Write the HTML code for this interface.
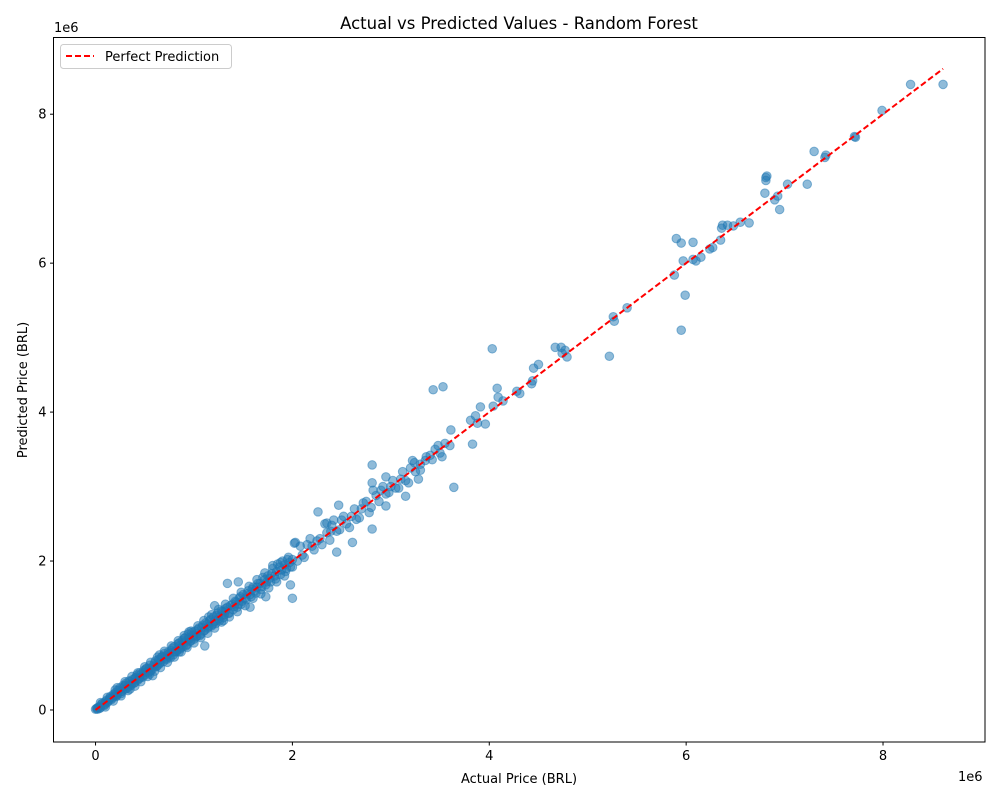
<!DOCTYPE html>
<html><head><meta charset="utf-8"><style>
body{margin:0;background:#fff;font-family:"Liberation Sans","DejaVu Sans",sans-serif}
svg text{font-family:"DejaVu Sans","Liberation Sans",sans-serif;fill:#000}
</style></head><body>
<svg id="chart" width="1000" height="800" xmlns="http://www.w3.org/2000/svg">
<rect width="1000" height="800" fill="#fff"/>
<text x="519" y="29" font-size="16.5" text-anchor="middle">Actual vs Predicted Values - Random Forest</text>
<g id="points"></g>
<g id="line"></g>
<rect x="53.5" y="37.5" width="931.5" height="704.5" fill="none" stroke="#000" stroke-width="1"/>
<g id="xticks"></g>
<g id="yticks"></g>
<text x="519" y="783" font-size="13" text-anchor="middle">Actual Price (BRL)</text>
<text transform="translate(27,390) rotate(-90)" font-size="13" text-anchor="middle">Predicted Price (BRL)</text>
<text x="54" y="32" font-size="13">1e6</text>
<text x="958" y="781" font-size="13">1e6</text>
<g>
<rect x="60.5" y="44.5" width="171" height="24" rx="3" fill="#fff" fill-opacity="0.8" stroke="#ccc"/>
<line x1="66" y1="56" x2="94" y2="56" stroke="red" stroke-width="2" stroke-dasharray="6,3"/>
<text x="105" y="61" font-size="13">Perfect Prediction</text>
</g>
</svg>
<script>
const actual=[0,0.01,0.02,0.03,0.05,0.06,0.08,0.1,0.12,0.14,0.15,0.17,0.19,0.2,0.22,0.24,0.25,0.27,0.28,0.3,0.31,0.33,0.35,0.36,0.38,0.4,0.42,0.44,0.45,0.47,0.49,0.5,0.52,0.54,0.55,0.57,0.58,0.6,0.62,0.64,0.65,0.67,0.69,0.7,0.72,0.74,0.75,0.77,0.79,0.8,0.82,0.84,0.86,0.88,0.89,0.91,0.93,0.94,0.96,0.98,1.0,1.01,1.03,1.05,1.07,1.09,1.1,1.12,1.14,1.16,1.18,1.2,1.22,1.24,1.26,1.28,1.3,1.32,1.35,1.37,1.4,1.42,1.44,1.46,1.48,1.5,1.53,1.55,1.58,1.6,1.63,1.65,1.68,1.7,1.73,1.75,1.78,1.8,1.83,1.85,1.88,1.9,1.93,1.95,1.98,2.02,2.05,2.1,2.15,2.2,2.25,2.3,2.35,2.4,2.45,2.5,2.55,2.6,2.65,2.7,2.75,2.8,2.85,2.9,2.95,3.0,3.05,3.1,3.15,3.2,3.25,3.3,3.35,3.4,3.45,3.5,3.55,3.6,3.22,3.28,
8.61,8.28,7.99,7.71,7.72,7.30,7.41,7.42,7.23,7.03,6.81,6.81,6.82,6.80,6.93,6.90,6.95,6.64,6.55,6.48,6.42,6.37,6.36,6.27,6.35,6.24,5.90,5.95,6.07,6.07,6.10,6.15,5.97,5.99,5.88,5.95,5.40,5.26,5.27,5.22,4.79,4.74,4.77,4.73,4.67,4.50,4.45,4.43,4.44,4.28,4.31,4.14,4.08,4.03,4.09,4.04,3.64,3.53,3.43,3.91,3.96,3.88,3.83,3.86,3.81,3.61,2.81,2.81,2.81,2.26,2.00,2.47,2.45,2.61,2.95,2.95,3.15,2.35,2.39,2.03,1.32,1.11,1.34,1.45,1.57,1.73,1.98,1.21,
0.02,0.04,0.07,0.09,0.11,0.13,0.16,0.18,0.21,0.23,0.26,0.29,0.32,0.34,0.37,0.39,0.41,0.43,0.46,0.48,0.51,0.53,0.56,0.59,0.61,0.63,0.66,0.68,0.71,0.73,0.76,0.78,0.81,0.83,0.85,0.87,0.9,0.92,0.95,0.97,0.99,1.02,1.04,1.06,1.08,1.11,1.13,1.15,1.17,1.19,1.21,1.23,1.25,1.27,1.29,1.31,1.34,1.36,1.39,1.41,1.43,1.45,1.47,1.49,1.52,1.54,1.57,1.59,1.62,1.64,1.67,1.69,1.72,1.74,1.77,1.79,1.82,1.84,1.87,1.89,1.92,1.94,1.97,2.0,0.05,0.1,0.15,0.2,0.25,0.3,0.35,0.4,0.45,0.5,0.55,0.6,0.65,0.7,0.75,0.8,0.85,0.9,0.95,1.0,
0.05,0.1,0.12,0.18,0.22,0.26,0.3,0.33,0.37,0.4,0.43,0.46,0.5,0.53,0.56,0.6,0.63,0.66,0.7,0.73,0.77,0.8,0.84,0.87,0.9,0.93,0.97,1.0,1.04,1.07,1.1,1.14,1.18,1.21,1.25,1.28,1.32,1.36,1.4,1.44,1.48,1.52,1.56,1.6,1.64,1.68,1.72,1.76,1.8,1.84,1.88,1.92,1.96,2.0,2.08,2.12,2.18,2.22,2.28,2.33,2.38,2.42,2.48,2.52,2.58,2.63,2.68,2.72,2.78,2.82,2.88,2.92,2.98,3.02,3.08,3.12,3.18,3.24,3.3,3.36,3.42,3.48,3.52,0.2,0.35,0.55,0.65,0.85,0.95,1.15,1.3];
const predicted=[0.01,0.02,0.01,0.04,0.05,0.08,0.07,0.11,0.1,0.15,0.18,0.16,0.2,0.23,0.2,0.26,0.3,0.25,0.33,0.28,0.36,0.31,0.38,0.33,0.41,0.37,0.47,0.42,0.5,0.45,0.53,0.47,0.56,0.5,0.6,0.54,0.46,0.63,0.58,0.68,0.62,0.71,0.65,0.76,0.68,0.78,0.72,0.8,0.74,0.85,0.78,0.89,0.82,0.93,0.85,0.97,0.88,1.02,0.92,1.04,0.95,1.06,0.99,1.1,1.02,1.14,1.06,1.17,1.1,1.2,1.13,1.25,1.16,1.3,1.2,1.33,1.24,1.36,1.3,1.4,1.35,1.46,1.38,1.5,1.42,1.55,1.48,1.6,1.52,1.65,1.57,1.7,1.62,1.78,1.68,1.8,1.72,1.9,1.76,1.96,1.82,2.0,1.86,2.02,1.92,2.24,2.0,2.08,2.22,2.2,2.27,2.22,2.38,2.48,2.4,2.55,2.5,2.6,2.56,2.7,2.8,2.72,2.88,2.95,2.9,3.0,2.98,3.1,3.08,3.25,3.2,3.3,3.35,3.42,3.5,3.45,3.58,3.55,3.35,3.1,
8.40,8.40,8.05,7.70,7.69,7.50,7.42,7.45,7.06,7.06,7.15,7.11,7.17,6.94,6.90,6.85,6.72,6.54,6.55,6.50,6.51,6.51,6.47,6.21,6.31,6.19,6.33,6.27,6.28,6.05,6.03,6.08,6.03,5.57,5.84,5.10,5.40,5.28,5.22,4.75,4.74,4.79,4.83,4.87,4.87,4.64,4.59,4.38,4.42,4.28,4.25,4.15,4.32,4.85,4.20,4.08,2.99,4.34,4.30,4.07,3.84,3.85,3.57,3.95,3.89,3.76,3.29,3.05,2.43,2.66,1.50,2.75,2.12,2.25,3.13,2.74,2.87,2.51,2.40,2.25,1.33,0.86,1.70,1.72,1.38,1.52,1.68,1.40,
0.03,0.02,0.09,0.06,0.13,0.12,0.14,0.21,0.18,0.27,0.22,0.31,0.29,0.39,0.35,0.36,0.44,0.4,0.48,0.44,0.55,0.52,0.52,0.6,0.66,0.6,0.64,0.72,0.69,0.74,0.7,0.83,0.79,0.8,0.9,0.84,0.96,0.86,0.97,0.93,1.01,0.98,1.08,1.0,1.11,1.07,1.15,1.12,1.22,1.15,1.19,1.27,1.22,1.26,1.32,1.28,1.38,1.3,1.42,1.39,1.45,1.42,1.52,1.46,1.5,1.56,1.55,1.62,1.6,1.65,1.7,1.66,1.75,1.72,1.77,1.83,1.8,1.86,1.92,1.88,1.95,1.9,1.98,2.02,0.03,0.08,0.16,0.19,0.24,0.33,0.34,0.42,0.43,0.51,0.56,0.58,0.67,0.71,0.76,0.78,0.86,0.91,0.95,1.0,
0.1,0.04,0.17,0.12,0.3,0.19,0.38,0.26,0.45,0.32,0.5,0.38,0.58,0.45,0.64,0.52,0.71,0.57,0.79,0.64,0.86,0.71,0.93,0.78,1.0,0.84,1.06,0.9,1.13,0.97,1.2,1.03,1.28,1.1,1.35,1.18,1.42,1.25,1.5,1.32,1.58,1.4,1.66,1.5,1.75,1.56,1.84,1.64,1.94,1.72,1.98,1.8,2.05,1.92,2.2,2.05,2.3,2.15,2.3,2.5,2.28,2.55,2.42,2.6,2.45,2.7,2.58,2.78,2.65,2.95,2.8,3.0,2.92,3.08,2.98,3.2,3.05,3.32,3.22,3.4,3.36,3.55,3.4,0.27,0.28,0.48,0.74,0.78,1.05,1.25,1.2];
const xTicks=[0,2,4,6,8];
const yTicks=[0,2,4,6,8];
const lineEnds=[0,8.61];
const X0=-0.427,X1=9.036,Y0=-0.43,Y1=9.03;
const L=53.5,R=985,T=37.5,B=742;
const sx=v=>L+(v-X0)/(X1-X0)*(R-L);
const sy=v=>B-(v-Y0)/(Y1-Y0)*(B-T);
const NS="http://www.w3.org/2000/svg";
function mk(tag,parent,attrs){const e=document.createElementNS(NS,tag);for(const k in attrs)e.setAttribute(k,attrs[k]);parent.appendChild(e);return e;}
const pg=document.getElementById('points');
for(let i=0;i<actual.length;i++){
  const c=mk('circle',pg,{cx:sx(actual[i]),cy:sy(predicted[i]),r:4.3,fill:'#1f77b4','fill-opacity':0.5,stroke:'#1f77b4','stroke-opacity':0.5,'stroke-width':1});
  
  
}
const lg=document.getElementById('line');
const ln=mk('line',lg,{x1:sx(lineEnds[0]),y1:sy(lineEnds[0]),x2:sx(lineEnds[1]),y2:sy(lineEnds[1]),stroke:'red','stroke-width':2,'stroke-dasharray':'6,3'});


const xg=document.getElementById('xticks');
xTicks.forEach(t=>{
  const x=sx(t);
  const tk=mk('line',xg,{x1:x,y1:B,x2:x,y2:B+3.5,stroke:'#000'});
  
  
  const tx=mk('text',xg,{x:x,y:B+18,'font-size':13,'text-anchor':'middle'});
  tx.textContent=t;
  
  
});
const yg=document.getElementById('yticks');
yTicks.forEach(t=>{
  const y=sy(t);
  const tk=mk('line',yg,{x1:L-3.5,y1:y,x2:L,y2:y,stroke:'#000'});
  
  
  const tx=mk('text',yg,{x:L-7,y:y+4.5,'font-size':13,'text-anchor':'end'});
  tx.textContent=t;
  
  
});
</script>
</body></html>
